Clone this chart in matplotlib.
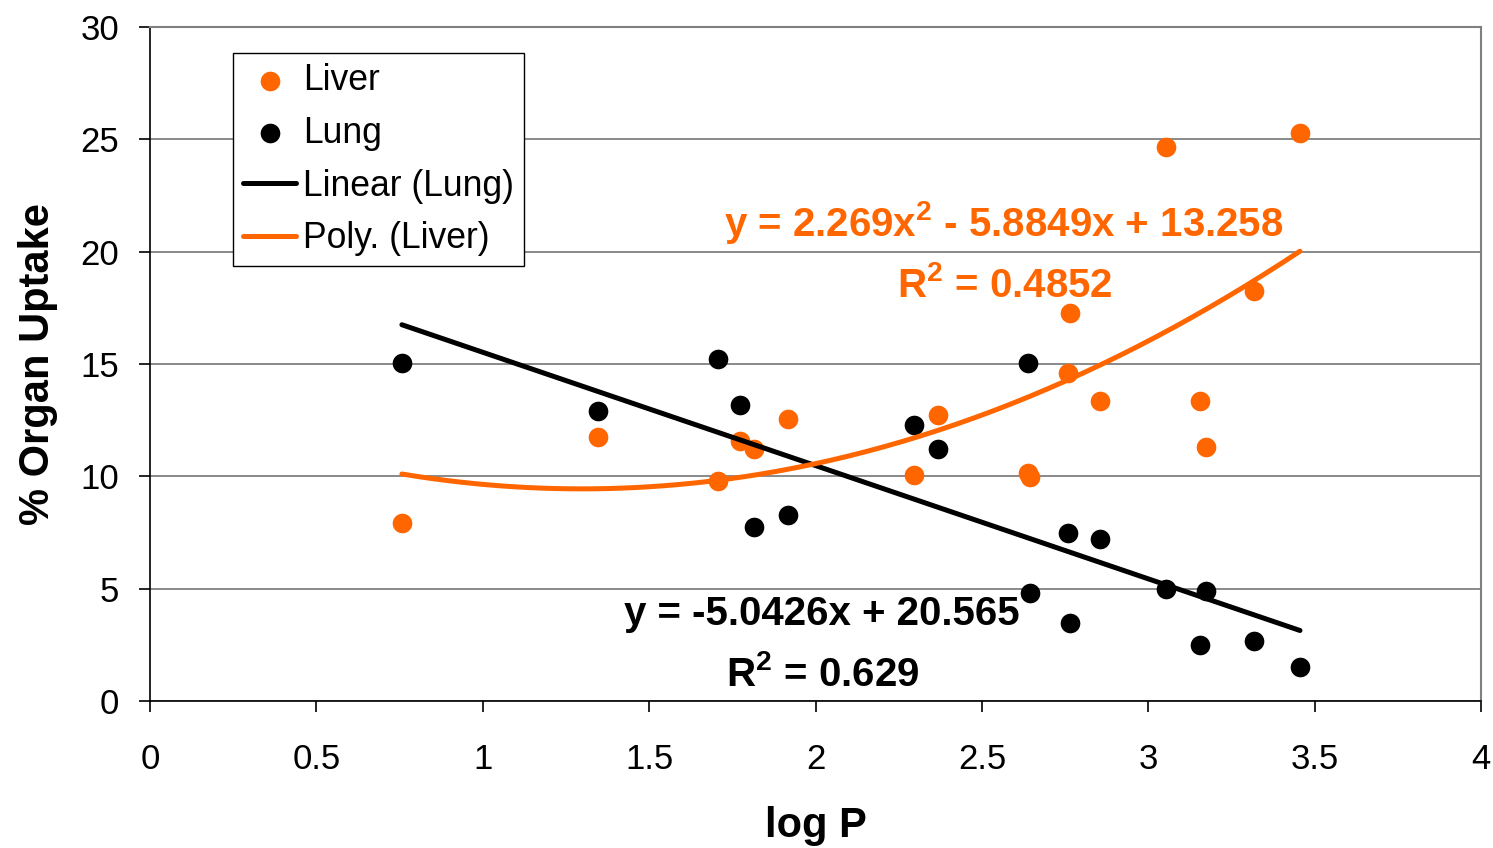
import numpy as np
import matplotlib
matplotlib.use('Agg')
import matplotlib.pyplot as plt

plt.rcParams['font.family'] = ['Liberation Sans', 'DejaVu Sans']
plt.rcParams['mathtext.fontset'] = 'custom'
plt.rcParams['mathtext.rm'] = 'Liberation Sans'
plt.rcParams['mathtext.bf'] = 'Liberation Sans:bold'

# log P values (shared by both organs)
log_p = [0.757, 1.346, 1.707, 1.773, 1.815, 1.917, 2.296, 2.368, 2.639,
         2.645, 2.765, 2.759, 2.855, 3.053, 3.156, 3.174, 3.318, 3.456]
liver = [7.92, 11.75, 9.79, 11.57, 11.21, 12.55, 10.06, 12.73, 10.15,
         9.97, 17.27, 14.6, 13.35, 24.65, 13.35, 11.3, 18.25, 25.28]
lung = [15.04, 12.9, 15.22, 13.17, 7.74, 8.28, 12.28, 11.21, 15.04,
        4.81, 3.47, 7.48, 7.21, 4.98, 2.49, 4.9, 2.67, 1.51]

# trendline coefficients as reported on the chart
lin_coef = [-5.0426, 20.565]
poly_coef = [2.269, -5.8849, 13.258]
lin_eq = 'y = -5.0426x + 20.565'
lin_r2 = r'R$^{\mathbf{2}}$ = 0.629'
poly_eq = r'y = 2.269x$^{\mathbf{2}}$ - 5.8849x + 13.258'
poly_r2 = r'R$^{\mathbf{2}}$ = 0.4852'

orange = '#FF6600'
W, H = 1493, 848
fig = plt.figure(figsize=(W / 100, H / 100), dpi=100)
ax = fig.add_axes([150 / W, 1 - 701 / H, (1481 - 150) / W, (701 - 27) / H])

ax.scatter(log_p, liver, s=200, color=orange, zorder=3, label='Liver', linewidths=0)
ax.scatter(log_p, lung, s=200, color='black', zorder=3, label='Lung', linewidths=0)

xs = np.linspace(min(log_p), max(log_p), 200)
ax.plot(xs, np.polyval(lin_coef, xs), color='black', lw=3.6, zorder=4,
        label='Linear (Lung)', solid_capstyle='round')
ax.plot(xs, np.polyval(poly_coef, xs), color=orange, lw=3.6, zorder=4,
        label='Poly. (Liver)', solid_capstyle='round')

ax.set_xlim(0, 4)
ax.set_ylim(0, 30)
ax.set_xticks(np.arange(0, 4.01, 0.5))
ax.set_xticklabels(['0', '0.5', '1', '1.5', '2', '2.5', '3', '3.5', '4'])
ax.set_yticks(range(0, 31, 5))
ax.yaxis.grid(True, color='#808080', lw=1.3)
ax.set_axisbelow(True)
for s in ['top', 'right']:
    ax.spines[s].set_color('#808080')
    ax.spines[s].set_linewidth(1.5)
for s in ['left', 'bottom']:
    ax.spines[s].set_color('black')
    ax.spines[s].set_linewidth(1.2)
ax.tick_params(axis='x', direction='out', length=8, width=1.2, pad=22, labelsize=25)
ax.tick_params(axis='y', direction='out', length=8, width=1.2, pad=14, labelsize=25)

ax.set_xlabel('log P', fontsize=30, fontweight='bold', labelpad=22)
ax.set_ylabel('% Organ Uptake', fontsize=30, fontweight='bold', labelpad=16)

txt = dict(fontsize=29, fontweight='bold', ha='center', va='center')
ax.text(2.567, 21.3, poly_eq, color=orange, **txt)
ax.text(2.57, 18.5, poly_r2, color=orange, **txt)
ax.text(2.02, 3.87, lin_eq, color='black', **txt)
ax.text(2.02, 1.2, lin_r2, color='black', **txt)

handles, labels = ax.get_legend_handles_labels()
leg = ax.legend(handles, labels, loc='upper left', bbox_to_anchor=(233 / W, 1 - 53 / H),
                bbox_transform=fig.transFigure, borderaxespad=0, fontsize=25.6,
                fancybox=False, framealpha=1, edgecolor='black', handlelength=1.5,
                handletextpad=0.2, labelspacing=0.5, borderpad=0.28, scatterpoints=1)
leg.get_frame().set_linewidth(1.0)

fig.savefig('out.png', dpi=100)
